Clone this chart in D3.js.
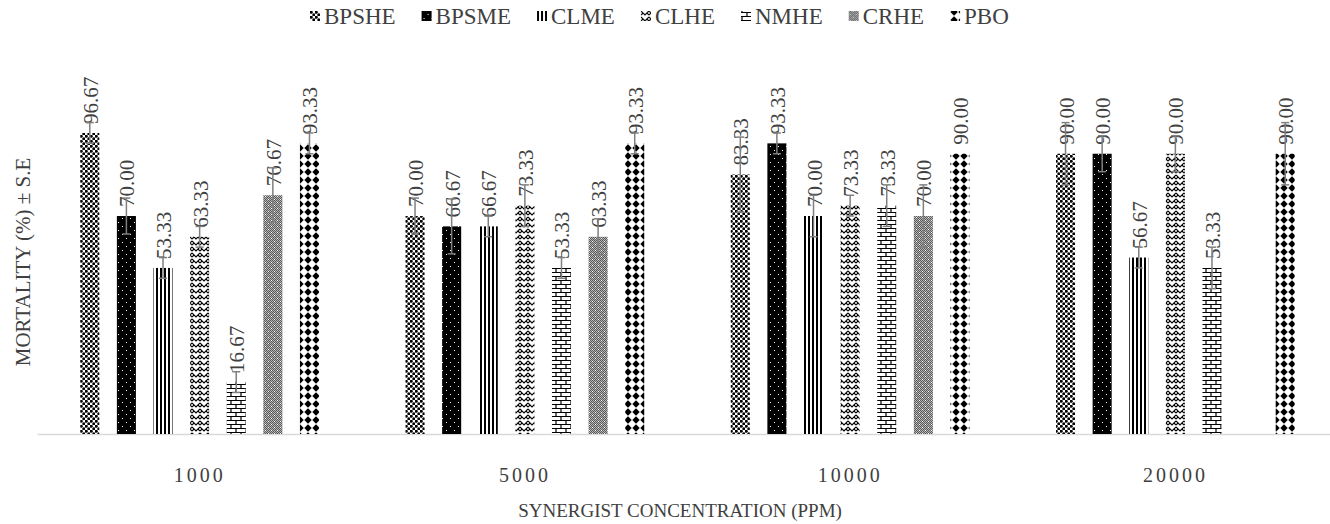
<!DOCTYPE html>
<html>
<head>
<meta charset="utf-8">
<script src="https://cdn.jsdelivr.net/npm/d3@7"></script>
<style>
  body { margin: 0; background: #fff; }
  text { font-family: "Liberation Serif", "Times New Roman", serif; fill: #404040; }
</style>
</head>
<body>
<div class="canvas"></div>
<script>
// data
const categories = ['1000', '5000', '10000', '20000'];
const series = ['BPSHE', 'BPSME', 'CLME', 'CLHE', 'NMHE', 'CRHE', 'PBO'];

const BPSHE = [96.67, 70.00, 83.33, 90.00];
const BPSME = [70.00, 66.67, 93.33, 90.00];
const CLME  = [53.33, 66.67, 70.00, 56.67];
const CLHE  = [63.33, 73.33, 73.33, 90.00];
const NMHE  = [16.67, 53.33, 73.33, 53.33];
const CRHE  = [76.67, 63.33, 70.00, null];
const PBO   = [93.33, 93.33, 90.00, 90.00];

// standard errors (estimated from the error bars)
const BPSHE_SE = [3.33, 5.77, 12.02, 10.00];
const BPSME_SE = [5.77, 8.82, 3.33, 5.77];
const CLME_SE  = [3.33, 3.33, 6.67, 3.33];
const CLHE_SE  = [3.33, 6.67, 3.33, 5.77];
const NMHE_SE  = [3.33, 3.33, 6.67, 6.67];
const CRHE_SE  = [8.82, 5.77, 10.00, null];
const PBO_SE   = [3.33, 3.33, 0, 10.00];

const values = { BPSHE, BPSME, CLME, CLHE, NMHE, CRHE, PBO };
const errors = { BPSHE: BPSHE_SE, BPSME: BPSME_SE, CLME: CLME_SE, CLHE: CLHE_SE, NMHE: NMHE_SE, CRHE: CRHE_SE, PBO: PBO_SE };

const dims = { width: 1330, height: 524 };
const plot = { left: 37, right: 1338, top: 122.6, bottom: 434 };

const svg = d3.select('.canvas')
    .append('svg')
    .attr('width', dims.width)
    .attr('height', dims.height);

svg.append('rect').attr('width', dims.width).attr('height', dims.height).attr('fill', '#fff');

// ---- fill patterns ----
const defs = svg.append('defs');

const pat = (id, w, h) => defs.append('pattern')
    .attr('id', id)
    .attr('patternUnits', 'userSpaceOnUse')
    .attr('width', w)
    .attr('height', h);

// BPSHE: dense black dots
let p = pat('p-BPSHE', 5, 5);
p.append('rect').attr('width', 5).attr('height', 5).attr('fill', '#fff');
p.append('circle').attr('cx', 1.25).attr('cy', 1.25).attr('r', 1.5).attr('fill', '#000');
p.append('circle').attr('cx', 3.75).attr('cy', 3.75).attr('r', 1.5).attr('fill', '#000');

// BPSME: black with small white dots
p = pat('p-BPSME', 8, 8);
p.append('rect').attr('width', 8).attr('height', 8).attr('fill', '#000');
p.append('rect').attr('x', 2).attr('y', 2).attr('width', 1).attr('height', 1).attr('fill', '#fff');
p.append('rect').attr('x', 6).attr('y', 6).attr('width', 1).attr('height', 1).attr('fill', '#fff');

// CLME: vertical stripes
p = pat('p-CLME', 4, 4);
p.append('rect').attr('width', 4).attr('height', 4).attr('fill', '#fff');
p.append('rect').attr('width', 2).attr('height', 4).attr('fill', '#000');

// CLHE: zigzag weave
p = pat('p-CLHE', 8, 6);
p.append('rect').attr('width', 8).attr('height', 6).attr('fill', '#fff');
p.append('path').attr('d', 'M0,1 L4,5 L8,1').attr('fill', 'none').attr('stroke', '#000').attr('stroke-width', 1.1);
p.append('path').attr('d', 'M0,5 L2,3 M6,3 L8,5').attr('fill', 'none').attr('stroke', '#000').attr('stroke-width', 1.1);

// NMHE: brick
p = pat('p-NMHE', 10, 8);
p.append('rect').attr('width', 10).attr('height', 8).attr('fill', '#fff');
p.append('path')
    .attr('d', 'M0,0.5 H10 M0,4.5 H10 M1,0.5 V4.5 M6,4.5 V8.5')
    .attr('fill', 'none').attr('stroke', '#000').attr('stroke-width', 1.2);

// CRHE: fine grey checker with light specks
p = pat('p-CRHE', 6, 6);
p.append('rect').attr('width', 6).attr('height', 6).attr('fill', '#b4b4b4');
[[0, 0], [2, 0], [4, 0], [1, 1], [3, 1], [5, 1], [0, 2], [2, 2], [4, 2],
 [1, 3], [3, 3], [5, 3], [0, 4], [2, 4], [4, 4], [1, 5], [3, 5], [5, 5]].forEach(([a, b]) => {
    p.append('rect').attr('x', a).attr('y', b).attr('width', 1).attr('height', 1).attr('fill', '#5a5a5a');
});
p.append('rect').attr('x', 4).attr('y', 1).attr('width', 1).attr('height', 1).attr('fill', '#fff');
p.append('rect').attr('x', 1).attr('y', 4).attr('width', 1).attr('height', 1).attr('fill', '#fff');

// PBO: black diamonds
p = pat('p-PBO', 8, 8);
p.append('rect').attr('width', 8).attr('height', 8).attr('fill', '#fff');
p.append('path').attr('d', 'M4,0.3 L7.7,4 L4,7.7 L0.3,4Z').attr('fill', '#000');

// ---- scales ----
const x0 = d3.scaleBand()
    .domain(categories)
    .range([plot.left, plot.right])
    .paddingInner(0.212)
    .paddingOuter(0.106);

const x1 = d3.scaleBand()
    .domain(series)
    .range([0, x0.bandwidth()])
    .paddingInner(0.48)
    .paddingOuter(0.24);

const y = d3.scaleLinear()
    .domain([0, 100])
    .range([plot.bottom, plot.top]);

// flat list of bars
const bars = [];
categories.forEach((c, i) => {
    series.forEach(s => {
        const v = values[s][i];
        if (v == null) return;
        bars.push({ cat: c, name: s, value: v, se: errors[s][i] });
    });
});

const graph = svg.append('g');

// baseline axis
const xAxis = d3.axisBottom(x0).tickSize(0).tickPadding(34);
const axisG = graph.append('g')
    .attr('transform', `translate(0, ${plot.bottom})`)
    .call(xAxis);
axisG.select('.domain').attr('stroke', '#d9d9d9').attr('stroke-width', 1.5);
axisG.selectAll('text')
    .attr('fill', '#404040')
    .style('font-family', '"Liberation Serif", serif')
    .style('font-size', '20px')
    .style('letter-spacing', '3px');

// bars
graph.selectAll('rect.bar')
    .data(bars)
    .enter()
    .append('rect')
        .attr('class', 'bar')
        .attr('x', d => x0(d.cat) + x1(d.name))
        .attr('y', d => y(d.value))
        .attr('width', x1.bandwidth())
        .attr('height', d => y(0) - y(d.value))
        .attr('fill', d => `url(#p-${d.name})`);

// value labels (rotated)
graph.selectAll('text.lbl')
    .data(bars)
    .enter()
    .append('text')
        .attr('class', 'lbl')
        .attr('transform', d => `translate(${x0(d.cat) + x1(d.name) + x1.bandwidth() / 2 + 1}, ${y(d.value) - 9}) rotate(-90)`)
        .attr('dominant-baseline', 'central')
        .attr('text-anchor', 'start')
        .style('font-size', '21px')
        .text(d => d.value.toFixed(2));

// error bars
const eb = graph.selectAll('g.err')
    .data(bars.filter(d => d.se > 0))
    .enter()
    .append('g')
        .attr('class', 'err')
        .attr('stroke', '#7f7f7f')
        .attr('stroke-width', 1.5);

const cx = d => x0(d.cat) + x1(d.name) + x1.bandwidth() / 2;
eb.append('line')
    .attr('x1', cx).attr('x2', cx)
    .attr('y1', d => y(d.value + d.se)).attr('y2', d => y(d.value - d.se));
eb.append('line')
    .attr('x1', d => cx(d) - 4).attr('x2', d => cx(d) + 4)
    .attr('y1', d => y(d.value + d.se)).attr('y2', d => y(d.value + d.se));
eb.append('line')
    .attr('x1', d => cx(d) - 4).attr('x2', d => cx(d) + 4)
    .attr('y1', d => y(d.value - d.se)).attr('y2', d => y(d.value - d.se));

// axis titles
svg.append('text')
    .attr('x', 680)
    .attr('y', 517)
    .attr('text-anchor', 'middle')
    .style('font-size', '19px')
    .text('SYNERGIST CONCENTRATION (PPM)');

svg.append('text')
    .attr('transform', 'translate(23, 262) rotate(-90)')
    .attr('text-anchor', 'middle')
    .attr('dominant-baseline', 'central')
    .style('font-size', '21px')
    .text('MORTALITY (%) ± S.E');

// legend
const legend = svg.append('g').attr('transform', 'translate(0, 16)');
let lx = 310;
series.forEach(s => {
    const item = legend.append('g').attr('transform', `translate(${lx}, 0)`);
    item.append('rect')
        .attr('x', 0).attr('y', -5)
        .attr('width', 10).attr('height', 10)
        .attr('fill', `url(#p-${s})`);
    const t = item.append('text')
        .attr('x', 14)
        .attr('dominant-baseline', 'central')
        .style('font-size', '23px')
        .text(s);
    lx += 14 + t.node().getComputedTextLength() + 26;
});
</script>
</body>
</html>
